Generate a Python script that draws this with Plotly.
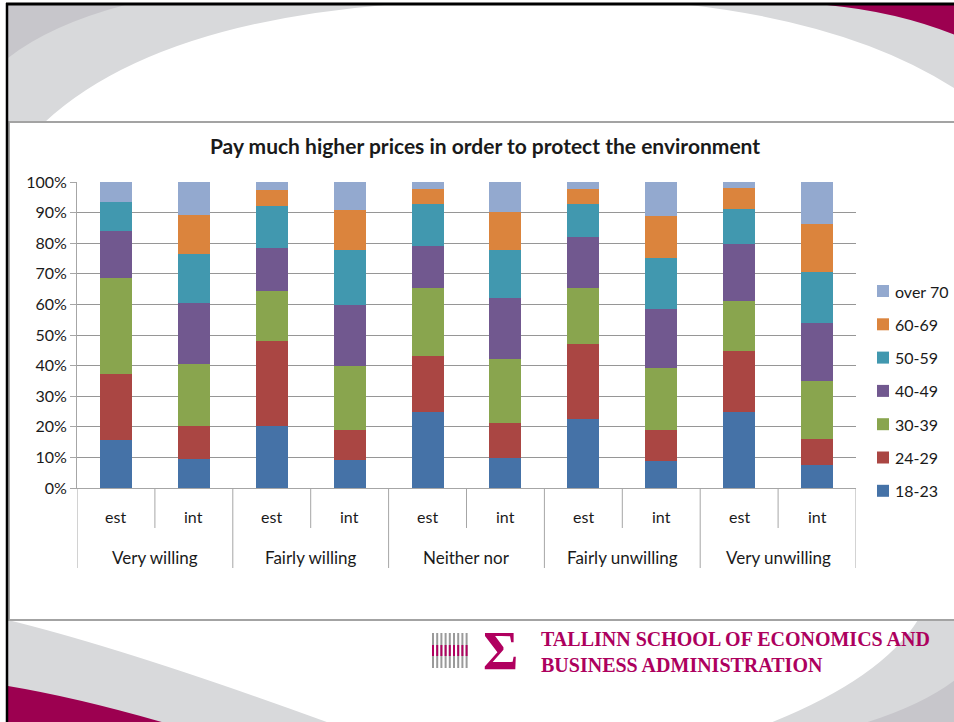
import plotly.graph_objects as go

# ---------------- data ----------------
groups = ["Very willing", "Fairly willing", "Neither nor", "Fairly unwilling", "Very unwilling"]
subs = ["est", "int"]
series_names = ["18-23", "24-29", "30-39", "40-49", "50-59", "60-69", "over 70"]
s18_23 = [15.8, 9.5, 20.3, 9.0, 24.8, 9.8, 22.4, 8.7, 24.8, 7.4]
s24_29 = [21.4, 10.6, 27.9, 10.1, 18.5, 11.3, 24.8, 10.4, 20.1, 8.5]
s30_39 = [31.5, 20.3, 16.3, 20.9, 22.1, 21.2, 18.2, 20.2, 16.3, 19.2]
s40_49 = [15.3, 20.1, 14.0, 19.9, 13.7, 19.9, 16.7, 19.3, 18.6, 18.9]
s50_59 = [9.5, 16.0, 13.5, 17.9, 13.7, 15.6, 10.7, 16.6, 11.4, 16.7]
s60_69 = [0.0, 12.8, 5.4, 12.9, 5.0, 12.4, 5.0, 13.8, 6.8, 15.6]
s_over70 = [6.5, 10.7, 2.6, 9.3, 2.2, 9.8, 2.2, 11.0, 2.0, 13.7]
series_values = [s18_23, s24_29, s30_39, s40_49, s50_59, s60_69, s_over70]
colors = ["#4572A7", "#AA4643", "#89A54E", "#71588F", "#4198AF", "#DB843D", "#93A9CF"]
title = "Pay much higher prices in order to protect the environment"

# ---------------- geometry helpers ----------------
W, H = 954, 722
L, R, T, B = 77, 856, 182, 488
PW, PH = R - L, B - T


def px(x):
    return (x - L) / PW


def py(y):
    return (B - y) / PH


def path(points_cmds):
    out = []
    for cmd in points_cmds:
        if cmd[0] in ("M", "L"):
            out.append(f"{cmd[0]} {px(cmd[1]):.5f},{py(cmd[2]):.5f}")
        elif cmd[0] == "Q":
            out.append(f"Q {px(cmd[1]):.5f},{py(cmd[2]):.5f} {px(cmd[3]):.5f},{py(cmd[4]):.5f}")
        elif cmd[0] == "Z":
            out.append("Z")
    return " ".join(out)


xkeys = [f"{g}|{s}" for g in groups for s in subs]
nser = len(series_names)

fig = go.Figure()
for i, (name, vals, col) in enumerate(zip(series_names, series_values, colors)):
    fig.add_trace(go.Bar(
        x=xkeys, y=vals, name=name, marker=dict(color=col, line=dict(width=0)),
        showlegend=False,
    ))

shapes = []
GRAY = "#d8d9db"
DGRAY = "#c7c6cb"
MAG = "#9c0050"
# top decorations
shapes.append(dict(type="path", xref="paper", yref="paper", layer="below", line=dict(width=0), fillcolor=GRAY,
                   path=path([("M", 8, 5), ("L", 385, 5), ("Q", 150, 25, 45, 122), ("L", 8, 122), ("Z",)])))
shapes.append(dict(type="path", xref="paper", yref="paper", layer="below", line=dict(width=0), fillcolor=DGRAY,
                   path=path([("M", 8, 5), ("L", 125, 5), ("Q", 50, 25, 8, 58), ("Z",)])))
shapes.append(dict(type="path", xref="paper", yref="paper", layer="below", line=dict(width=0), fillcolor=GRAY,
                   path=path([("M", 690, 5), ("L", 960, 5), ("L", 960, 92), ("Q", 860, 25, 690, 5), ("Z",)])))
shapes.append(dict(type="path", xref="paper", yref="paper", layer="below", line=dict(width=0), fillcolor=MAG,
                   path=path([("M", 827, 5), ("L", 960, 5), ("L", 960, 37), ("Q", 900, 12, 827, 5), ("Z",)])))
# bottom decorations
shapes.append(dict(type="path", xref="paper", yref="paper", layer="below", line=dict(width=0), fillcolor=GRAY,
                   path=path([("M", 8, 620), ("L", 8, 725), ("L", 335, 725), ("Q", 130, 650, 8, 620), ("Z",)])))
shapes.append(dict(type="path", xref="paper", yref="paper", layer="below", line=dict(width=0), fillcolor=MAG,
                   path=path([("M", 8, 686), ("L", 8, 725), ("L", 172, 725), ("Q", 80, 698, 8, 686), ("Z",)])))
shapes.append(dict(type="path", xref="paper", yref="paper", layer="below", line=dict(width=0), fillcolor=GRAY,
                   path=path([("M", 918, 620), ("L", 960, 620), ("L", 960, 725), ("L", 765, 725),
                              ("Q", 880, 680, 918, 620), ("Z",)])))
shapes.append(dict(type="path", xref="paper", yref="paper", layer="below", line=dict(width=0), fillcolor=DGRAY,
                   path=path([("M", 960, 676), ("L", 960, 725), ("L", 858, 725), ("Q", 925, 705, 960, 676), ("Z",)])))
# chart box
shapes.append(dict(type="rect", xref="paper", yref="paper", layer="below",
                   x0=px(9), x1=px(962), y0=py(620), y1=py(122),
                   fillcolor="white", line=dict(color="#a3a3a3", width=2)))
# slide borders
shapes.append(dict(type="line", xref="paper", yref="paper", x0=px(6), x1=px(960), y0=py(4), y1=py(4),
                   line=dict(color="black", width=3)))
shapes.append(dict(type="line", xref="paper", yref="paper", x0=px(7), x1=px(7), y0=py(3), y1=py(725),
                   line=dict(color="black", width=2.5)))
# logo stripes
for k in range(9):
    xx = 433 + k * 4.2
    shapes.append(dict(type="line", xref="paper", yref="paper", x0=px(xx), x1=px(xx), y0=py(633), y1=py(668),
                       line=dict(color="#9a9a9a", width=2)))
    shapes.append(dict(type="line", xref="paper", yref="paper", x0=px(xx), x1=px(xx), y0=py(645), y1=py(656),
                       line=dict(color="#b0005f", width=2)))

# category dividers below the x axis
n = len(xkeys)
for i in range(n + 1):
    full = (i % 2 == 0)
    shapes.append(dict(type="line", xref="x", yref="paper", x0=i - 0.5, x1=i - 0.5,
                       y0=0, y1=py(568 if full else 528), line=dict(color="#a6a6a6", width=1)))

annotations = []
for i, key in enumerate(xkeys):
    annotations.append(dict(x=i, xref="x", y=py(516), yref="paper", text=subs[i % 2], showarrow=False,
                            font=dict(family="Lato", size=16, color="#1a1a1a"), yanchor="middle"))
for gi, g in enumerate(groups):
    annotations.append(dict(x=2 * gi + 0.5, xref="x", y=py(557), yref="paper", text=g, showarrow=False,
                            font=dict(family="Lato", size=17, color="#1a1a1a"), yanchor="middle"))

# legend (top item = last series), built from the series names and colours
for k, idx in enumerate(reversed(range(nser))):
    cy = 291 + k * 33.3
    shapes.append(dict(type="rect", xref="paper", yref="paper", x0=px(877), x1=px(889),
                       y0=py(cy + 6), y1=py(cy - 6), fillcolor=colors[idx], line=dict(width=0)))
    annotations.append(dict(x=px(893), y=py(cy), xref="paper", yref="paper", xanchor="left", yanchor="middle",
                            text=series_names[idx], showarrow=False,
                            font=dict(family="Lato", size=16, color="#1a1a1a")))

# logo texts
annotations.append(dict(x=px(500), y=py(651), xref="paper", yref="paper", text="<b>Σ</b>", showarrow=False,
                        font=dict(family="Liberation Serif", size=54, color="#b0005f"), yanchor="middle"))
annotations.append(dict(x=px(539), y=py(652), xref="paper", yref="paper", xanchor="left", yanchor="middle",
                        align="left",
                        text="<b>TALLINN SCHOOL OF ECONOMICS AND<br>BUSINESS ADMINISTRATION</b>", showarrow=False,
                        font=dict(family="Liberation Serif", size=20, color="#ad005e")))

fig.update_layout(
    width=W, height=H, autosize=False, showlegend=False,
    margin=dict(l=L, r=W - R, t=T, b=H - B),
    paper_bgcolor="white", plot_bgcolor="white",
    barmode="stack", bargap=0.59,
    font=dict(family="Lato", size=16, color="#1a1a1a"),
    title=dict(text=f"<b>{title}</b>", x=px(485), xref="paper", xanchor="center",
               y=1 - 147 / H, yref="container", yanchor="middle",
               font=dict(family="Lato", size=21, color="#1a1a1a")),
    xaxis=dict(type="category", categoryorder="array", categoryarray=xkeys, range=[-0.5, n - 0.5],
               showticklabels=False, showgrid=False, ticks="", showline=True, linecolor="#a6a6a6", linewidth=1,
               fixedrange=True),
    yaxis=dict(range=[0, 100], dtick=10, ticksuffix="%", showgrid=True, gridcolor="#969696", gridwidth=1,
               showline=True, linecolor="#a6a6a6", linewidth=1, ticks="outside", ticklen=6,
               tickcolor="#a6a6a6", zeroline=False, tickfont=dict(size=16), fixedrange=True),
    shapes=shapes, annotations=annotations,
)

fig.write_html("out.html",
               config={"responsive": False, "displayModeBar": False},
               post_script="document.body.style.margin='0';document.body.style.overflow='hidden';")
